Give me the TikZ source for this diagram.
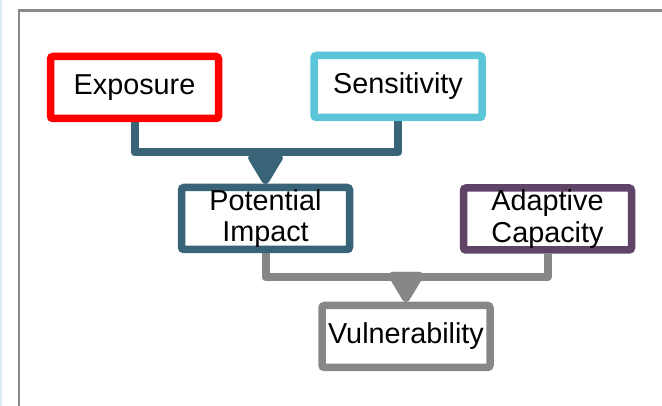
\documentclass[tikz,border=0pt]{standalone}
\usepackage{fontspec}
\setmainfont{Liberation Sans}
\usetikzlibrary{arrows.meta,backgrounds}
\definecolor{cred}{HTML}{FF0000}
\definecolor{ccyan}{HTML}{5BC5DA}
\definecolor{cteal}{HTML}{396478}
\definecolor{cpurple}{HTML}{5F4468}
\definecolor{cgray}{HTML}{878787}
\definecolor{cframe}{HTML}{8A8A8A}
\definecolor{cstrip}{HTML}{DAEEF3}
\tikzset{
  box/.style={draw, line width=7.5pt, rounded corners=2.5pt, fill=white,
    minimum width=168pt, minimum height=62pt, inner sep=0pt, align=center,
    font=\fontsize{28.8}{31.5}\selectfont},
  conn/.style={line width=8pt, line join=round,
    -{Triangle[length=34pt,width=38pt,round]}},
}
\begin{document}
\begin{tikzpicture}[x=1pt,y=-1pt]
\useasboundingbox (0,0) rectangle (662,406);
\fill[cstrip] (0,0) rectangle (2,406);
\draw[cframe, line width=2.5pt] (19,406) -- (19,10.5) -- (662,10.5);
\node[box, draw=cred] (exp) at (134.5,87.5) {Exposure};
\node[box, draw=ccyan] (sen) at (398,86.5) {Sensitivity};
\node[box, draw=cteal] (pi) at (265.5,218.5) {Potential\\Impact};
\node[box, draw=cpurple] (ac) at (547.5,219) {Adaptive\\Capacity};
\node[box, draw=cgray] (vul) at (406,336.5) {Vulnerability};
\coordinate (j1) at (265.5,152.5);
\coordinate (j2) at (406,277.5);
\begin{scope}[on background layer]
\draw[conn, cteal] (exp.south) |- (j1) -- (pi.north);
\draw[conn, cteal] (sen.south) |- (j1) -- (pi.north);
\draw[conn, cgray] (pi.south) |- (j2) -- (vul.north);
\draw[conn, cgray] (ac.south) |- (j2) -- (vul.north);
\end{scope}
\end{tikzpicture}
\end{document}
